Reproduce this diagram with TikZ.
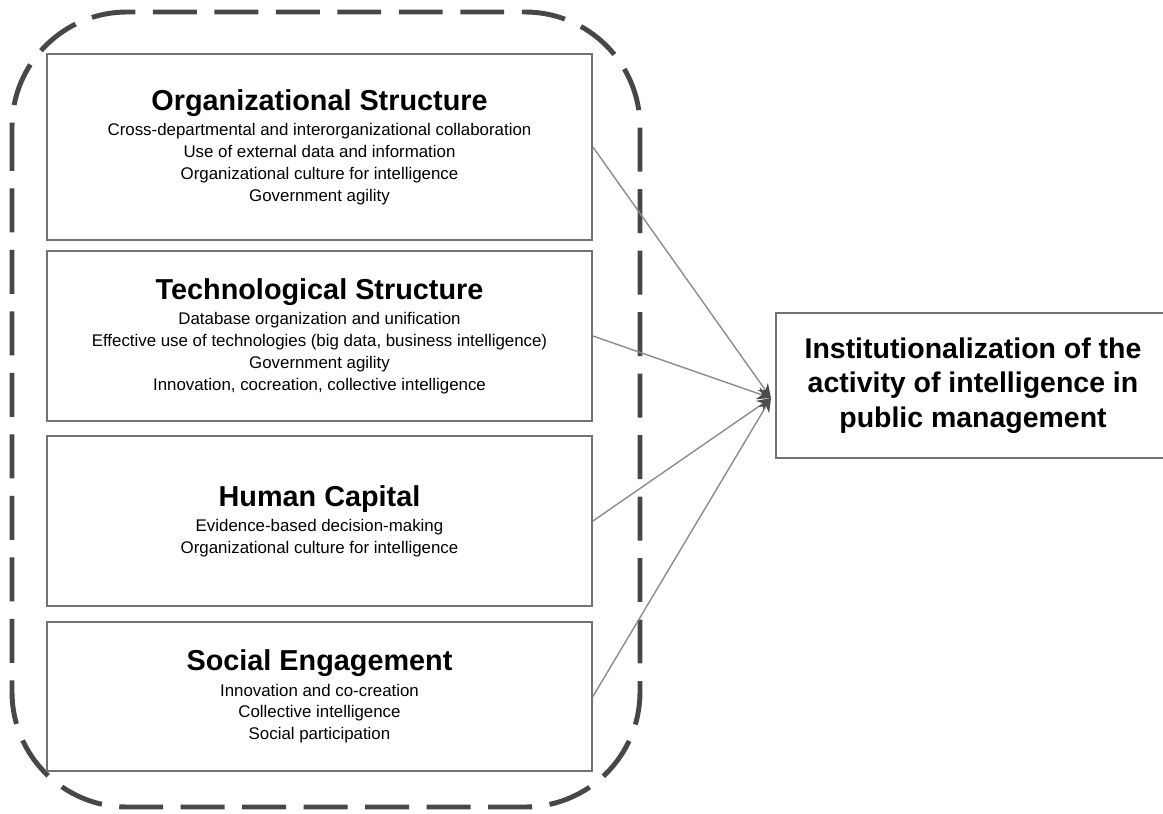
\documentclass[tikz,border=0pt]{standalone}
\usepackage{fontspec}
\setmainfont{Liberation Sans}
\usetikzlibrary{arrows.meta}

\newcommand{\factortitle}[1]{{\fontsize{16.4}{18}\selectfont\bfseries #1}}

\begin{document}
\begin{tikzpicture}[x=0.02cm,y=-0.02cm,
  factor/.style={draw=black!55,line width=1.1pt,minimum width=10.9cm,align=center,
    inner sep=0pt,font=\fontsize{9.6}{12.4}\selectfont},
  result/.style={draw=black!55,line width=1.1pt,minimum width=7.9cm,minimum height=2.9cm,
    align=center,inner sep=0pt,font=\fontsize{16.2}{19.8}\selectfont\bfseries},
  link/.style={draw=black!45,line width=0.8pt,-{Stealth[length=8pt,width=7pt,color=black!70]}},
  frame/.style={draw=black!72,line width=2.8pt,dash pattern=on 25pt off 10pt,rounded corners=2.3cm}]
\useasboundingbox (0,0) rectangle (1163,814);

% dashed group round the four factors
\draw[frame] (12,12) rectangle (640,807);

\node[factor,minimum height=3.72cm] (orgstruct) at (319.5,147) {\factortitle{Organizational Structure}\\[2pt]
  Cross-departmental and interorganizational collaboration\\
  Use of external data and information\\
  Organizational culture for intelligence\\
  Government agility};
\node[factor,minimum height=3.4cm] (techstruct) at (319.5,336) {\factortitle{Technological Structure}\\[2pt]
  Database organization and unification\\
  Effective use of technologies (big data, business intelligence)\\
  Government agility\\
  Innovation, cocreation, collective intelligence};
\node[factor,minimum height=3.4cm] (humancap) at (319.5,521) {\factortitle{Human Capital}\\[2pt]
  Evidence-based decision-making\\
  Organizational culture for intelligence};
\node[factor,minimum height=2.98cm] (socialeng) at (319.5,696.5) {\factortitle{Social Engagement}\\[2pt]
  Innovation and co-creation\\
  Collective intelligence\\
  Social participation};

\node[result] (inst) at (973,385.5) {Institutionalization of the\\
  activity of intelligence in\\
  public management};
\coordinate (tip) at (771,398);

\foreach \f in {orgstruct,techstruct,humancap,socialeng}
  \draw[link] (\f.east) -- (tip);
\end{tikzpicture}
\end{document}
